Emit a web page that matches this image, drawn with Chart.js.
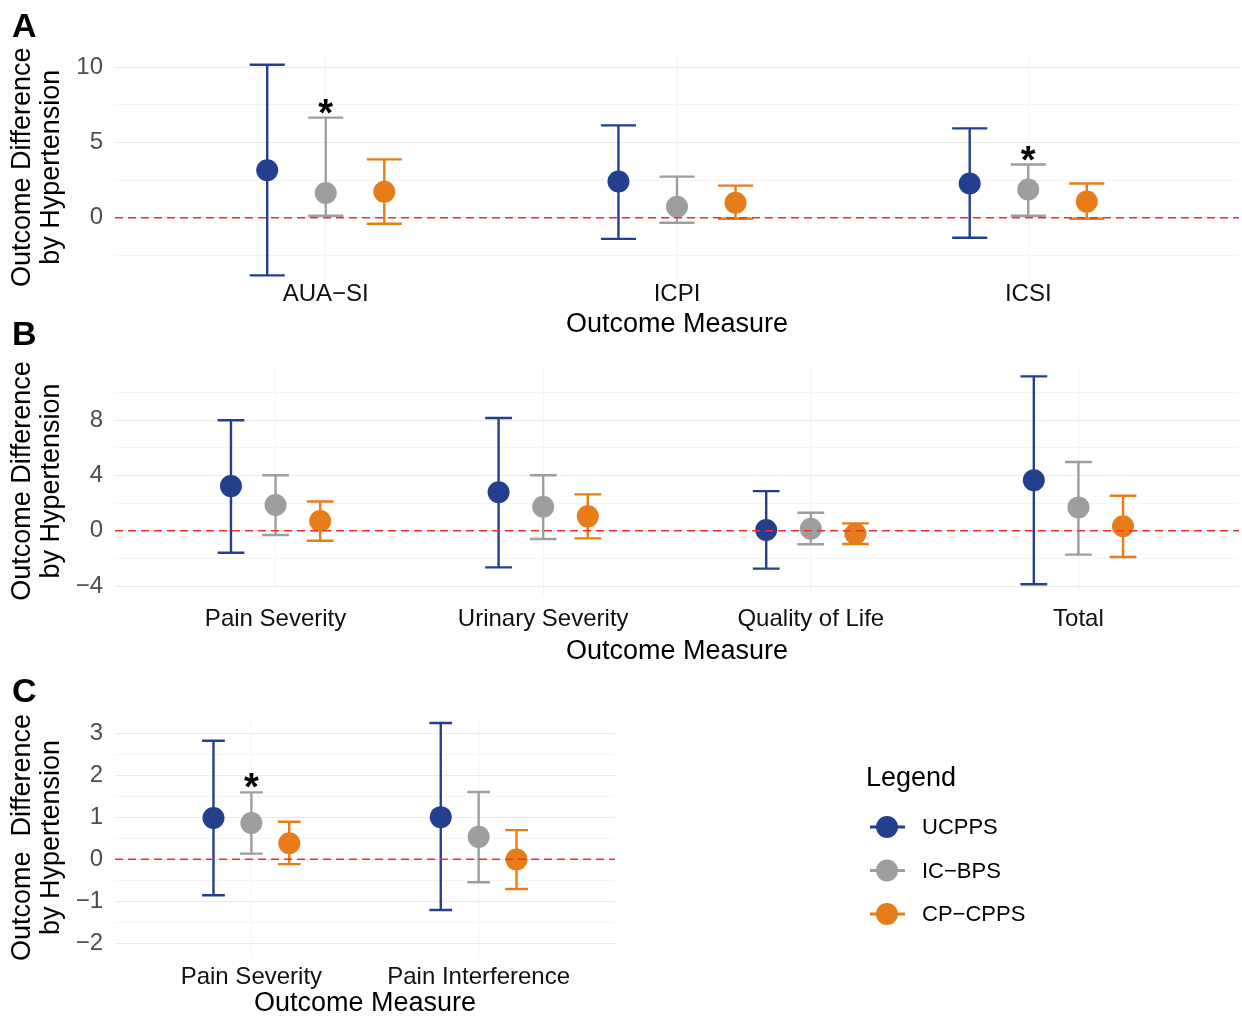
<!DOCTYPE html>
<html>
<head>
<meta charset="utf-8">
<script src="https://cdn.jsdelivr.net/npm/chart.js@4.4.1/dist/chart.umd.min.js"></script>
<style>
  html, body { margin: 0; padding: 0; background: #fff; overflow: hidden; width: 1242px; height: 1019px; position: relative; }
  canvas { position: absolute; left: 0; }
  .tag { position: absolute; left: 12px; font: bold 34px "Liberation Sans", Arial, sans-serif; line-height: 34px; color: #000; }
</style>
</head>
<body>
<canvas id="chartA" width="1250" height="340" style="top:0px"></canvas>
<canvas id="chartB" width="1250" height="330" style="top:340px"></canvas>
<canvas id="chartC" width="1242" height="349" style="top:670px"></canvas>
<div class="tag" style="top:8px">A</div>
<div class="tag" style="top:316px">B</div>
<div class="tag" style="top:673px">C</div>
<script>
// series
const seriesNames = ['UCPPS', 'IC\u2212BPS', 'CP\u2212CPPS'];
const seriesColors = ['#243f8e', '#9e9e9e', '#e67d19'];

// Panel A
const catsA = ['AUA\u2212SI', 'ICPI', 'ICSI'];
const ucppsA = [3.15, 2.4, 2.27];
const ucppsLoA = [-3.82, -1.4, -1.33];
const ucppsHiA = [10.15, 6.13, 5.93];
const icbpsA = [1.64, 0.73, 1.87];
const icbpsLoA = [0.13, -0.33, 0.13];
const icbpsHiA = [6.64, 2.73, 3.53];
const cpcppsA = [1.73, 1.0, 1.07];
const cpcppsLoA = [-0.4, -0.07, -0.07];
const cpcppsHiA = [3.87, 2.13, 2.27];
const icbpsStarsA = [true, false, true];
const yLabelsA = [0, 5, 10];
const yMinorA = [-2.5, 2.5, 7.5];

// Panel B
const catsB = ['Pain Severity', 'Urinary Severity', 'Quality of Life', 'Total'];
const ucppsB = [3.23, 2.79, 0.05, 3.66];
const ucppsLoB = [-1.59, -2.65, -2.74, -3.87];
const ucppsHiB = [8.0, 8.16, 2.87, 11.17];
const icbpsB = [1.86, 1.73, 0.14, 1.69];
const icbpsLoB = [-0.31, -0.6, -0.98, -1.73];
const icbpsHiB = [4.02, 4.02, 1.3, 4.98];
const cpcppsB = [0.7, 1.04, -0.22, 0.32];
const cpcppsLoB = [-0.72, -0.55, -0.96, -1.9];
const cpcppsHiB = [2.12, 2.63, 0.53, 2.53];
const icbpsStarsB = [false, false, false, false];
const yLabelsB = [-4, 0, 4, 8];
const yMinorB = [-2, 2, 6, 10];

// Panel C
const catsC = ['Pain Severity', 'Pain Interference'];
const ucppsC = [0.98, 1.0];
const ucppsLoC = [-0.86, -1.21];
const ucppsHiC = [2.82, 3.24];
const icbpsC = [0.86, 0.53];
const icbpsLoC = [0.13, -0.55];
const icbpsHiC = [1.59, 1.6];
const cpcppsC = [0.38, -0.01];
const cpcppsLoC = [-0.12, -0.71];
const cpcppsHiC = [0.89, 0.69];
const icbpsStarsC = [true, false];
const yLabelsC = [-2, -1, 0, 1, 2, 3];
const yMinorC = [-1.5, -0.5, 0.5, 1.5, 2.5];

const FONT = '"Liberation Sans", Arial, sans-serif';
Chart.defaults.font.family = FONT;

const dodge = [-1 / 6, 0, 1 / 6];
const capHalf = 0.05;

function fmt(v) {
  return v < 0 ? '\u2212' + Math.abs(v) : String(v);
}

// error bars under the points, zero line and stars on top
const errorBars = {
  id: 'errorBars',
  beforeDatasetsDraw(chart) {
    const { ctx, scales: { x, y } } = chart;
    ctx.save();
    chart.data.datasets.forEach(ds => {
      ctx.strokeStyle = ds.borderColor;
      ctx.lineWidth = 2.4;
      ds.data.forEach((p, j) => {
        const px = x.getPixelForValue(p.x);
        const half = x.getPixelForValue(p.x + capHalf) - px;
        const yl = y.getPixelForValue(ds.lo[j]);
        const yh = y.getPixelForValue(ds.hi[j]);
        ctx.beginPath();
        ctx.moveTo(px, yl); ctx.lineTo(px, yh);
        ctx.moveTo(px - half, yl); ctx.lineTo(px + half, yl);
        ctx.moveTo(px - half, yh); ctx.lineTo(px + half, yh);
        ctx.stroke();
      });
    });
    ctx.restore();
  },
  afterDatasetsDraw(chart) {
    const { ctx, chartArea, scales: { x, y } } = chart;
    ctx.save();
    // reference line at 0
    const y0 = y.getPixelForValue(0);
    ctx.strokeStyle = '#f52c2c';
    ctx.lineWidth = 1.5;
    ctx.setLineDash([8, 5]);
    ctx.beginPath();
    ctx.moveTo(chartArea.left, y0);
    ctx.lineTo(chartArea.right, y0);
    ctx.stroke();
    ctx.setLineDash([]);
    // significance stars
    ctx.fillStyle = '#000';
    ctx.font = 'bold 38px ' + FONT;
    ctx.textAlign = 'center';
    ctx.textBaseline = 'alphabetic';
    chart.data.datasets.forEach(ds => {
      if (!ds.stars) return;
      ds.data.forEach((p, j) => {
        if (!ds.stars[j]) return;
        ctx.fillText('*', x.getPixelForValue(p.x), y.getPixelForValue(ds.hi[j]) + 8);
      });
    });
    ctx.restore();
  }
};

// legend drawn beside panel C
const sideLegend = {
  id: 'sideLegend',
  afterDraw(chart) {
    const ctx = chart.ctx;
    ctx.save();
    ctx.fillStyle = '#000';
    ctx.textBaseline = 'middle';
    ctx.textAlign = 'left';
    ctx.font = '27px ' + FONT;
    ctx.fillText('Legend', 866, 109);
    ctx.font = '22px ' + FONT;
    chart.data.datasets.forEach((ds, i) => {
      const cy = 157 + i * 43.5;
      ctx.strokeStyle = ds.borderColor;
      ctx.lineWidth = 3;
      ctx.beginPath();
      ctx.moveTo(870, cy); ctx.lineTo(905, cy);
      ctx.stroke();
      ctx.fillStyle = ds.backgroundColor;
      ctx.beginPath();
      ctx.arc(887, cy, 11, 0, Math.PI * 2);
      ctx.fill();
      ctx.fillStyle = '#000';
      ctx.fillText(ds.label, 922, cy + 1);
    });
    ctx.restore();
  }
};

function makeDatasets(est, lo, hi, stars) {
  return seriesNames.map((name, i) => ({
    label: name,
    data: est[i].map((v, j) => ({ x: j + 1 + dodge[i], y: v })),
    lo: lo[i],
    hi: hi[i],
    stars: i === 1 ? stars : null,
    backgroundColor: seriesColors[i],
    borderColor: seriesColors[i],
    pointRadius: 11,
    pointHoverRadius: 11,
    pointBorderWidth: 0,
    showLine: false
  }));
}

function makePanel(id, cats, datasets, yLabels, yMinor, p, extraPlugins) {
  return new Chart(document.getElementById(id), {
    type: 'scatter',
    data: { datasets: datasets },
    plugins: [errorBars].concat(extraPlugins || []),
    options: {
      responsive: false,
      animation: false,
      events: [],
      layout: { padding: { top: p.areaTop, left: 0, right: p.padRight, bottom: 0 } },
      plugins: { legend: { display: false }, tooltip: { enabled: false } },
      scales: {
        x: {
          type: 'linear',
          min: 0.4,
          max: cats.length + 0.6,
          afterBuildTicks: s => { s.ticks = cats.map((c, i) => ({ value: i + 1 })); },
          afterFit: s => { s.height = p.xAxisH; },
          ticks: {
            autoSkip: false,
            maxRotation: 0,
            padding: p.tickPad,
            color: '#111',
            font: { size: 24, lineHeight: 1 },
            callback: v => cats[Math.round(v) - 1]
          },
          grid: { color: '#f3f3f3', drawTicks: false },
          border: { display: false },
          title: {
            display: true,
            text: 'Outcome Measure',
            color: '#000',
            font: { size: 27, lineHeight: 1.04 },
            padding: { top: 0, bottom: p.titlePad }
          }
        },
        y: {
          min: p.yMin,
          max: p.yMax,
          afterBuildTicks: s => {
            s.ticks = yLabels.concat(yMinor).sort((a, b) => a - b).map(v => ({ value: v }));
          },
          afterFit: s => { s.width = 115; },
          ticks: {
            autoSkip: false,
            padding: 12,
            color: '#4d4d4d',
            font: { size: 24, lineHeight: 1 },
            callback: v => yLabels.includes(v) ? fmt(v) : ''
          },
          grid: {
            color: c => (c.tick && yLabels.includes(c.tick.value)) ? '#ebebeb' : '#f5f5f5',
            drawTicks: false
          },
          border: { display: false },
          title: {
            display: true,
            text: p.yTitle,
            color: '#000',
            font: { size: 27, lineHeight: 1.04 },
            padding: { top: 9, bottom: 0 }
          }
        }
      }
    }
  });
}

makePanel('chartA', catsA,
  makeDatasets([ucppsA, icbpsA, cpcppsA], [ucppsLoA, icbpsLoA, cpcppsLoA], [ucppsHiA, icbpsHiA, cpcppsHiA], icbpsStarsA),
  yLabelsA, yMinorA,
  { areaTop: 54.5, padRight: 5, xAxisH: 60, tickPad: 2, titlePad: 1, yMin: -4.13, yMax: 10.83,
    yTitle: ['Outcome Difference', 'by Hypertension'] });

makePanel('chartB', catsB,
  makeDatasets([ucppsB, icbpsB, cpcppsB], [ucppsLoB, icbpsLoB, cpcppsLoB], [ucppsHiB, icbpsHiB, cpcppsHiB], icbpsStarsB),
  yLabelsB, yMinorB,
  { areaTop: 27, padRight: 5, xAxisH: 75, tickPad: 12, titlePad: 4, yMin: -4.65, yMax: 11.85,
    yTitle: ['Outcome Difference', 'by Hypertension'] });

makePanel('chartC', catsC,
  makeDatasets([ucppsC, icbpsC, cpcppsC], [ucppsLoC, icbpsLoC, cpcppsLoC], [ucppsHiC, icbpsHiC, cpcppsHiC], icbpsStarsC),
  yLabelsC, yMinorC,
  { areaTop: 48, padRight: 627, xAxisH: 62, tickPad: 8, titlePad: 1, yMin: -2.33, yMax: 3.36,
    yTitle: ['Outcome  Difference', 'by Hypertension'] },
  [sideLegend]);
</script>
</body>
</html>
